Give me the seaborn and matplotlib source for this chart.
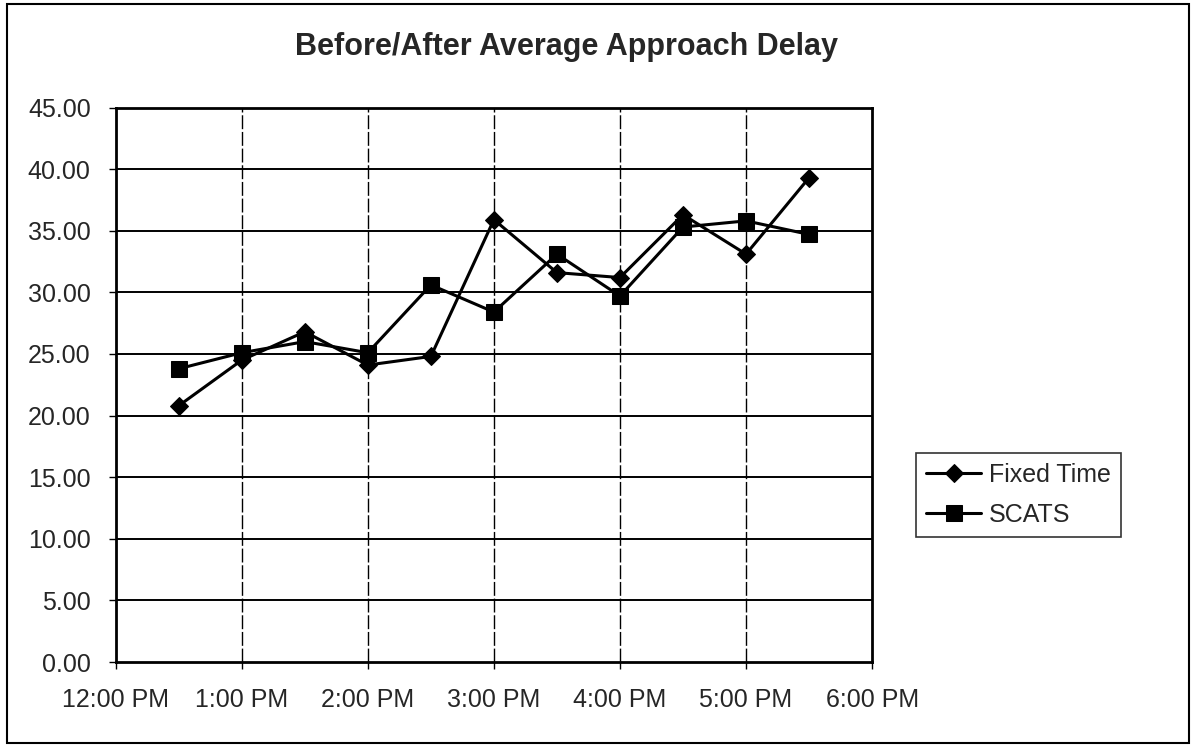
import numpy as np
import matplotlib
matplotlib.use("Agg")
import matplotlib.pyplot as plt
import pandas as pd
import seaborn as sns
from matplotlib.patches import Rectangle

# datos (cada media hora desde las 12:30 PM)
horas = [12.5, 13.0, 13.5, 14.0, 14.5, 15.0, 15.5, 16.0, 16.5, 17.0, 17.5]
fixed_time = [20.8, 24.5, 26.8, 24.1, 24.8, 35.9, 31.6, 31.2, 36.3, 33.1, 39.3]
scats = [23.8, 25.1, 26.0, 25.1, 30.6, 28.4, 33.1, 29.7, 35.3, 35.8, 34.7]
x_ticks = [12, 13, 14, 15, 16, 17, 18]
x_labels = ['12:00 PM', '1:00 PM', '2:00 PM', '3:00 PM', '4:00 PM', '5:00 PM', '6:00 PM']
y_ticks = [0, 5, 10, 15, 20, 25, 30, 35, 40, 45]

df_fixed = pd.DataFrame({'hora': horas, 'delay': fixed_time})
df_scats = pd.DataFrame({'hora': horas, 'delay': scats})

sns.set_style('white')
plt.rcParams['font.family'] = ['Liberation Sans', 'DejaVu Sans']

fig = plt.figure(figsize=(11.93, 7.45), dpi=100)
ax = fig.add_axes([0.097, 0.1114, 0.634, 0.7443])

# dos series: rombos y cuadrados negros
sns.lineplot(data=df_fixed, x='hora', y='delay', color='black', marker='D',
             markersize=9, markeredgecolor='black', linewidth=2.2,
             label='Fixed Time', ax=ax, zorder=4)
sns.lineplot(data=df_scats, x='hora', y='delay', color='black', marker='s',
             markersize=11, markeredgecolor='black', linewidth=2.2,
             label='SCATS', ax=ax, zorder=3)

ax.set_xlim(12, 18)
ax.set_ylim(0, 45)
ax.set_xticks(x_ticks)
ax.set_xticklabels(x_labels, fontsize=18)
ax.set_yticks(y_ticks)
ax.set_yticklabels([f'{v:.2f}' for v in y_ticks], fontsize=18)
ax.tick_params(axis='both', direction='out', length=5, width=1, color='black',
               bottom=True, left=True)
ax.tick_params(axis='x', pad=14)
ax.tick_params(axis='y', pad=13)
ax.set_xlabel('')
ax.set_ylabel('')

# rejilla: horizontal continua, vertical discontinua
ax.grid(False)
for v in y_ticks[1:-1]:
    ax.axhline(v, color='black', linewidth=1.4, zorder=0)
for h in x_ticks[1:-1]:
    ax.axvline(h, color='black', linewidth=1, linestyle=(0, (10, 2)), zorder=0)

for lado in ['top', 'right', 'bottom', 'left']:
    ax.spines[lado].set_linewidth(2)
    ax.spines[lado].set_color('black')

fig.text(0.475, 0.926, 'Before/After Average Approach Delay', ha='center',
         va='baseline', fontsize=22, fontweight='bold')

leg = ax.legend(loc='upper left', bbox_to_anchor=(0.768, 0.392),
                bbox_transform=fig.transFigure, fontsize=18,
                frameon=True, fancybox=False, handlelength=2.2,
                handletextpad=0.3, borderpad=0.4, labelspacing=0.65,
                borderaxespad=0)
leg.get_frame().set_edgecolor('black')
leg.get_frame().set_linewidth(1.2)

# marco de la figura
fig.add_artist(Rectangle((0.006, 0.003), 0.991, 0.991, transform=fig.transFigure,
                         fill=False, edgecolor='black', linewidth=1.5))

fig.savefig('out.png', dpi=100)
